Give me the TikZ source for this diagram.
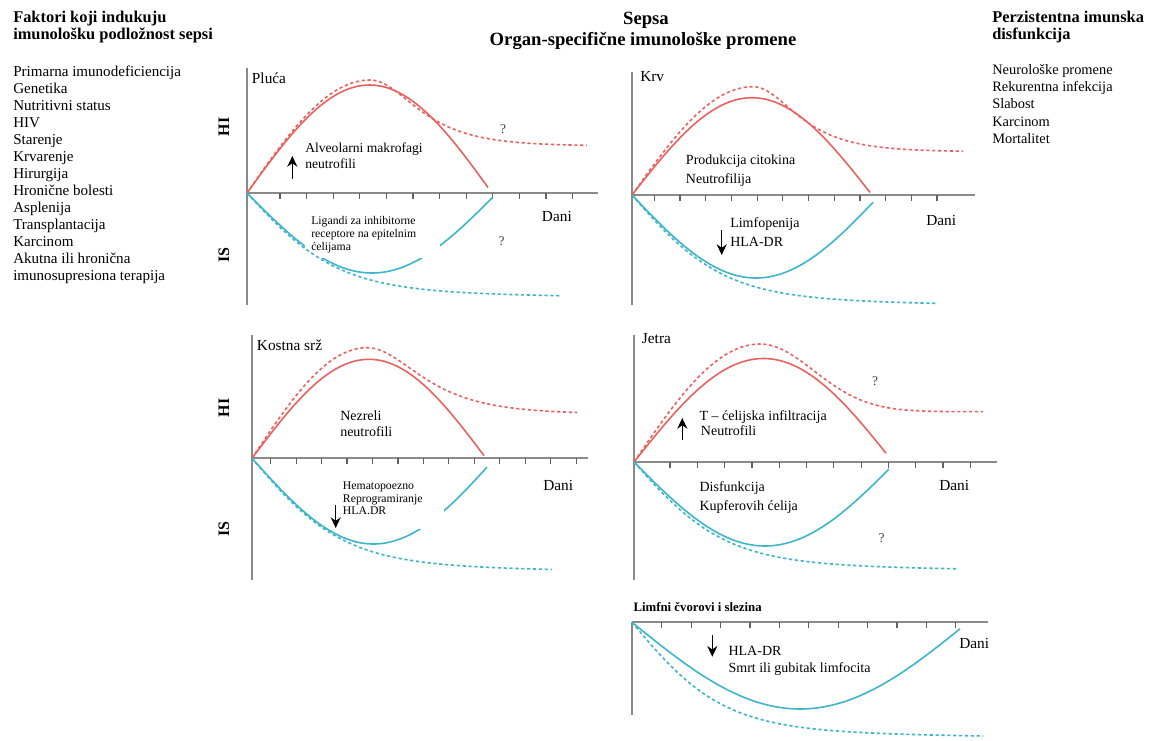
\documentclass[tikz,border=0pt]{standalone}
\usepackage{fontspec}
\setmainfont{Liberation Serif}
\usetikzlibrary{arrows.meta}
\definecolor{redc}{HTML}{E8625E}
\definecolor{bluec}{HTML}{3DB5CA}
\definecolor{axisgray}{HTML}{8A8A8A}
\newcommand{\redarc}[5]{\draw[redsolid] plot[domain=#1:#5,samples=70] (\x,{#2-#3*sin(180/#4*(\x-#1))});}
\newcommand{\redtail}[7]{\draw[reddash] plot[domain=#1:#3,samples=40] (\x,{#2-#4*sin(90/(#3-#1)*(\x-#1))}) -- plot[domain=#3:#7,samples=70] (\x,{#2-#5-(#4-#5)/cosh((\x-#3)/#6)});}
\newcommand{\bluearc}[5]{\draw[bluesolid] plot[domain=#1:#5,samples=70] (\x,{#2+#3*sin(180/#4*(\x-#1))});}
\newcommand{\bluetail}[4]{\draw[bluedash] plot[domain=#1:#4,samples=70] (\x,{#2+#3*(0.86*tanh((\x-#1)/90)+0.14*(1-exp(-(\x-#1)/200)))});}
\tikzset{
  axisline/.style={draw=axisgray,line width=1.3pt},
  tickline/.style={draw=axisgray!70!black,line width=0.9pt},
  redsolid/.style={draw=redc,line width=1.2pt},
  reddash/.style={draw=redc,line width=1.2pt,dash pattern=on 2.4pt off 2pt},
  bluesolid/.style={draw=bluec,line width=1.2pt},
  bluedash/.style={draw=bluec,line width=1.2pt,dash pattern=on 2.4pt off 2pt},
  txt/.style={anchor=base west,inner sep=0pt,font=\fontsize{11.3}{13}\selectfont},
  rtxt/.style={anchor=base west,inner sep=0pt,font=\fontsize{10.8}{13}\selectfont},
  hdr/.style={anchor=base west,inner sep=0pt,font=\fontsize{12.3}{14}\selectfont\bfseries},
  ttl/.style={anchor=base,inner sep=0pt,font=\fontsize{14}{16}\selectfont\bfseries},
  ptitle/.style={anchor=base west,inner sep=0pt,font=\fontsize{11.5}{13}\selectfont},
  mid/.style={anchor=base west,inner sep=0pt,font=\fontsize{10.5}{12}\selectfont},
  small/.style={anchor=base west,inner sep=0pt,font=\fontsize{8.8}{10}\selectfont},
  dani/.style={anchor=base west,inner sep=0pt,font=\fontsize{11.5}{13}\selectfont},
  qm/.style={anchor=base,inner sep=0pt,font=\fontsize{10}{12}\selectfont,text=black!75},
  side/.style={rotate=90,inner sep=0pt,font=\fontsize{12}{14}\selectfont\bfseries},
  arr/.style={line width=1pt,-{Stealth[length=8pt,width=7.5pt]}}
}
\begin{document}
\begin{tikzpicture}[x=0.75pt,y=-0.75pt]
\useasboundingbox (0,0) rectangle (1168,740);
\fill[white] (0,0) rectangle (1168,740);

% ---------- column headers ----------
\node[hdr] (lh1) at (13,22) {Faktori koji indukuju};
\node[hdr] (lh2) at (13,39) {imunološku podložnost sepsi};
\foreach \t [count=\i from 0] in {Primarna imunodeficiencija,Genetika,Nutritivni status,HIV,Starenje,Krvarenje,Hirurgija,Hronične bolesti,Asplenija,Transplantacija,Karcinom,Akutna ili hronična,imunosupresiona terapija}
  \node[txt] (f\i) at (13,{76.5+17*\i}) {\t};

\node[ttl] (t1) at (646,24) {Sepsa};
\node[ttl] (t2) at (643,45) {Organ-specifične imunološke promene};

\node[hdr] (rh1) at (992,22) {Perzistentna imunska};
\node[hdr] (rh2) at (992,39) {disfunkcija};
\foreach \t [count=\i from 0] in {Neurološke promene,Rekurentna infekcija,Slabost,Karcinom,Mortalitet}
  \node[rtxt] (r\i) at (992,{74.5+17.2*\i}) {\t};

% ---------- side labels ----------
\node[side] (hiA) at (224,127) {HI};
\node[side] (isA) at (224,255) {IS};
\node[side] (hiB) at (224,408) {HI};
\node[side] (isB) at (224,529) {IS};

% ---------- Pluca ----------
\draw[axisline] (247,68) -- (247,305);
\draw[axisline] (247,193) -- (598,193);
\foreach \i in {0,...,11} \draw[tickline] ({280+26.6*\i},193) -- ++(0,6);
\redarc{247}{193}{108}{245}{488}
\redtail{247}{193}{370}{113}{47}{41}{587}
\bluearc{247}{193}{80}{250}{493}
\fill[white] (305,205) rectangle (440,258);
\bluetail{247}{193}{106}{560}
\node[ptitle] (p1) at (251.7,83.5) {Pluća};
\node[mid,font=\fontsize{10.2}{12}\selectfont] (p2) at (305,152) {Alveolarni makrofagi};
\node[mid,font=\fontsize{10.2}{12}\selectfont] (p3) at (305,168) {neutrofili};
\coordinate (pa1) at (292.3,179);
\coordinate (pa2) at (292.3,156);
\draw[arr] (pa1) -- (pa2);
\node[qm] (pq1) at (503,133.5) {?};
\node[qm] (pq2) at (501.7,245) {?};
\node[small] (p4) at (311,224) {Ligandi za inhibitorne};
\node[small] (p5) at (311,237) {receptore na epitelnim};
\node[small] (p6) at (311,250) {ćelijama};
\node[dani] (pd) at (541.7,221) {Dani};

% ---------- Krv ----------
\draw[axisline] (632,72) -- (632,305);
\draw[axisline] (632,195) -- (975,195);
\foreach \i in {0,...,11} \draw[tickline] ({654.3+25.7*\i},195) -- ++(0,6);
\redarc{632}{195}{97.3}{240}{870}
\redtail{632}{195}{753}{108.3}{43.3}{38}{963}
\bluearc{632}{195}{83}{248}{873}
\bluetail{632}{195}{112}{937}
\node[ptitle] (k1) at (640,81.7) {Krv};
\node[mid] (k2) at (685.7,164.5) {Produkcija citokina};
\node[mid] (k3) at (685.7,183) {Neutrofilija};
\node[mid] (k4) at (730,227) {Limfopenija};
\node[mid] (k5) at (730,246) {HLA-DR};
\coordinate (ka1) at (721.7,230);
\coordinate (ka2) at (721.7,255);
\draw[arr] (ka1) -- (ka2);
\node[dani] (kd) at (926,225) {Dani};

% ---------- Kostna srz ----------
\draw[axisline] (252,335) -- (252,580);
\draw[axisline] (252,458.3) -- (588,458.3);
\foreach \i in {0,...,12} \draw[tickline] ({270.7+25.45*\i},458.3) -- ++(0,6);
\redarc{252}{458.3}{99}{234}{484}
\redtail{252}{458.3}{367}{110.6}{44.3}{47}{577}
\bluearc{252}{458.3}{85.7}{243}{487}
\fill[white] (337,476) rectangle (444,529);
\bluetail{252}{458.3}{115}{552}
\node[ptitle] (b1) at (256.7,350.5) {Kostna srž};
\node[mid] (b2) at (340,420) {Nezreli};
\node[mid] (b3) at (340,436) {neutrofili};
\node[small] (b4) at (342.7,489.5) {Hematopoezno};
\node[small] (b5) at (342.7,502) {Reprogramiranje};
\node[small] (b6) at (342.7,514.5) {HLA.DR};
\coordinate (ba1) at (335.7,505);
\coordinate (ba2) at (335.7,528);
\draw[arr] (ba1) -- (ba2);
\node[dani] (bd) at (543,490) {Dani};

% ---------- Jetra ----------
\draw[axisline] (634,335) -- (634,580);
\draw[axisline] (634,462) -- (997,462);
\foreach \i in {0,...,11} \draw[tickline] ({670+27.3*\i},462) -- ++(0,6);
\redarc{634}{462}{103.5}{259}{886}
\draw[reddash] plot[domain=634:760,samples=40] (\x,{462-118*sin(90/126*(\x-634))}) -- plot[domain=760:983,samples=70] (\x,{462-50.3-67.7*exp(-((\x-760)/76)^2)});
\bluearc{634}{462}{84}{262}{889}
\bluetail{634}{462}{110}{958}
\node[ptitle] (j1) at (641.7,343) {Jetra};
\node[mid] (j2) at (699.3,420.5) {T – ćelijska infiltracija};
\node[mid] (j3) at (700.7,435) {Neutrofili};
\coordinate (ja1) at (682.3,440);
\coordinate (ja2) at (682.3,418);
\draw[arr] (ja1) -- (ja2);
\node[qm] (jq1) at (875,385) {?};
\node[qm] (jq2) at (881.7,542) {?};
\node[mid] (j4) at (699.3,491.5) {Disfunkcija};
\node[mid] (j5) at (699.3,510) {Kupferovih ćelija};
\node[dani] (jd) at (939,490.5) {Dani};

% ---------- Limfni cvorovi i slezina ----------
\node[anchor=base west,inner sep=0pt,font=\fontsize{9.6}{11}\selectfont\bfseries] (l1) at (633.3,611.2) {Limfni čvorovi i slezina};
\draw[axisline] (632,621.7) -- (632,715);
\draw[axisline] (632,622.3) -- (988.3,622.3);
\foreach \i in {0,...,10} \draw[tickline] ({661.7+29.4*\i},622.3) -- ++(0,6);
\bluearc{632}{622.3}{86.7}{336}{960}
\bluetail{632}{622.3}{116.6}{983}
\node[mid] (l2) at (728.3,655) {HLA-DR};
\node[mid] (l3) at (728.3,672.8) {Smrt ili gubitak limfocita};
\coordinate (la1) at (712.3,635);
\coordinate (la2) at (712.3,656.7);
\draw[arr] (la1) -- (la2);
\node[dani] (ld) at (959,648) {Dani};
\end{tikzpicture}
\end{document}
